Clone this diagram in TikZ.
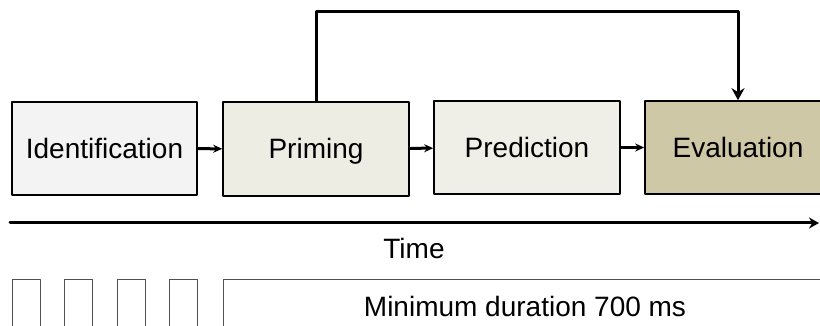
\documentclass[tikz,border=0pt]{standalone}
\usepackage{fontspec}
\setmainfont{Liberation Sans}
\usetikzlibrary{arrows.meta}
\definecolor{identfill}{HTML}{F3F3F3}
\definecolor{primfill}{HTML}{EDEDE3}
\definecolor{predfill}{HTML}{EFEFE7}
\definecolor{evalfill}{HTML}{CEC8A6}
\definecolor{slotline}{HTML}{505050}
\tikzset{
  stage/.style={draw=black,line width=1.6pt,minimum width=186pt,minimum height=93pt,
    inner sep=0pt,text height=20pt,text depth=0pt},
  slot/.style={draw=slotline,line width=1.3pt,inner sep=0pt,anchor=north west},
  link/.style={-{Stealth[length=9pt,width=8pt]},line width=3pt}
}
\begin{document}
\begin{tikzpicture}[line join=round,line cap=round,x=1pt,y=-1pt,
    font=\fontsize{28}{34}\selectfont]
            \useasboundingbox (0,0) rectangle (820,326);
            \clip (0,0) rectangle (820,326);
            %	stages
            \node[stage,fill=identfill,minimum width=185pt] (ident) at (104.5,148.5) {Identification};
            \node[stage,fill=primfill,minimum height=94pt] (prim) at (316,149) {Priming};
            \node[stage,fill=predfill] (pred) at (527,147.5) {Prediction};
            \node[stage,fill=evalfill] (eval) at (738,147.5) {Evaluation};
            \draw[link] (ident) -- (prim);
            \draw[link] (prim) -- (pred);
            \draw[link] (pred) -- (eval);
            \coordinate (top) at (0,12);
            \draw[link,-{Stealth[length=12pt,width=13pt]},line cap=butt]
            (prim.north) -- (prim.north |- top) -| (eval.north);
            %	time axis
            \coordinate (t0) at (10,223);
            \coordinate (t1) at (819,223);
            \draw[-{Stealth[length=10pt,width=11pt]},line width=3pt] (t0) -- (t1);
            \node (time) at (414,248) {Time};
            %	durations
            \foreach \x/\n in {12/a,64/b,117/c,169/d}
            \node[slot,minimum width=28pt,minimum height=70pt] (s\n) at (\x,279) {};
            \node[slot,minimum width=620pt,minimum height=70pt] (dur) at (223,279) {};
            \node (durtext) at (525,306) {Minimum duration 700 ms};
        \end{tikzpicture}
\end{document}
